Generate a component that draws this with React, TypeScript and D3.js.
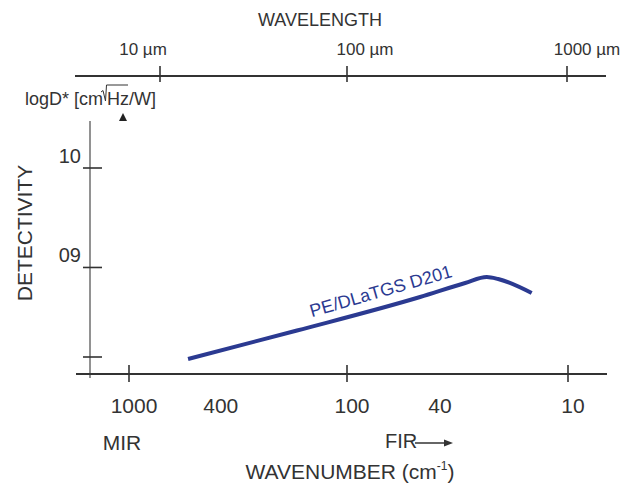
import React from "react";
import * as d3 from "d3";

// ---- data ----
const wavenumbers = [536, 169.6, 46.7, 29.2, 23.3, 20.7, 14.6];
const logDetectivity = [8.08, 8.366, 8.703, 8.844, 8.904, 8.884, 8.743];
const seriesName = "PE/DLaTGS D201";
const bottomTicks = [1000, 100, 10];
const bottomLabels = [1000, 400, 100, 40, 10];
const topTicks = [10, 100, 1000];
const topLabels = ["10 µm", "100 µm", "1000 µm"];
const yTicks = [10, 9, 8.1];
const yTickLabels = ["10", "09", ""];

const W = 622;
const H = 486;
const FONT = "'Liberation Sans', Arial, Helvetica, sans-serif";
const TXT = "#333";
const BLUE = "#2b3a91";

export default function App() {
  const x = d3.scaleLog().domain([1000, 100, 10]).range([129, 347, 568]);
  const xTop = d3.scaleLog().domain([10, 100, 1000]).range([160, 347, 567]);
  const xTopLabel = d3.scaleLog().domain([10, 1000]).range([143, 587]);
  const y = d3.scaleLinear().domain([8.1, 10]).range([357, 168]);

  const axisY = 374;
  const topY = 76;
  const yAxisX = 90;

  const pts: [number, number][] = wavenumbers.map((w, i) => [w, logDetectivity[i]]);
  const line = d3
    .line<[number, number]>()
    .x((d) => x(d[0]))
    .y((d) => y(d[1]))
    .curve(d3.curveMonotoneX);

  const labelX = x(145);
  const labelY = y(8.5);

  return (
    <svg
      width={W}
      height={H}
      style={{ position: "absolute", left: 0, top: 0, background: "#fff" }}
      fontFamily={FONT}
    >
      {/* top wavelength axis */}
      <text x={320} y={26} fontSize={18} fill={TXT} textAnchor="middle">
        WAVELENGTH
      </text>
      <line x1={75} x2={606} y1={topY} y2={topY} stroke="#333" strokeWidth={2} />
      {topTicks.map((t, i) => (
        <g key={t}>
          <line x1={xTop(t)} x2={xTop(t)} y1={topY - 10} y2={topY + 6} stroke="#333" strokeWidth={1.6} />
          <text x={xTopLabel(t)} y={55} fontSize={17} fill={TXT} textAnchor="middle">
            {topLabels[i]}
          </text>
        </g>
      ))}

      {/* y axis unit label */}
      <text x={103} y={105} fontSize={18} fill={TXT} textAnchor="end">
        logD* [cm
      </text>
      <path d="M101,92 L103,90.5 L105.5,101 L106.5,85 L128,85" fill="none" stroke={TXT} strokeWidth={1} />
      <text x={107} y={105} fontSize={18} fill={TXT} textAnchor="start">
        Hz/W]
      </text>
      <path d="M119,113 L127,113 L123,121 Z" transform="rotate(180 123 117)" fill="#222" />

      {/* y axis */}
      <line x1={yAxisX} x2={yAxisX} y1={121} y2={378} stroke="#777" strokeWidth={1.6} />
      {yTicks.map((t, i) => (
        <g key={t}>
          <line x1={83} x2={102} y1={y(t)} y2={y(t)} stroke="#333" strokeWidth={1.6} />
          <text x={81} y={y(t) - 5} fontSize={20} fill={TXT} textAnchor="end">
            {yTickLabels[i]}
          </text>
        </g>
      ))}
      <text
        transform={`translate(32,233) rotate(-90)`}
        fontSize={21}
        fill={TXT}
        textAnchor="middle"
      >
        DETECTIVITY
      </text>

      {/* bottom axis */}
      <line x1={76} x2={607} y1={axisY} y2={axisY} stroke="#333" strokeWidth={2} />
      {bottomTicks.map((t) => (
        <line key={t} x1={x(t)} x2={x(t)} y1={axisY - 9} y2={axisY + 8} stroke="#333" strokeWidth={1.6} />
      ))}
      {bottomLabels.map((t) => (
        <text key={t} x={x(t) + 5} y={413} fontSize={21} fill={TXT} textAnchor="middle">
          {t}
        </text>
      ))}
      <text x={122} y={450} fontSize={21} fill={TXT} textAnchor="middle">
        MIR
      </text>
      <text x={385} y={448} fontSize={20} fill={TXT} textAnchor="start">
        FIR
      </text>
      <line x1={415} x2={446} y1={443} y2={443} stroke="#333" strokeWidth={1.5} />
      <path d="M444,439.5 L453,443 L444,446.5 Z" fill="#333" />
      <text x={350} y={479} fontSize={21} fill={TXT} textAnchor="middle">
        WAVENUMBER (cm
        <tspan fontSize={12} dy={-9}>-1</tspan>
        <tspan dy={9}>)</tspan>
      </text>

      {/* curve */}
      <path d={line(pts) || ""} fill="none" stroke={BLUE} strokeWidth={4} strokeLinecap="butt" strokeLinejoin="round" />
      <text
        transform={`translate(${labelX},${labelY}) rotate(-16)`}
        fontSize={18}
        fill={BLUE}
      >
        {seriesName}
      </text>
    </svg>
  );
}
